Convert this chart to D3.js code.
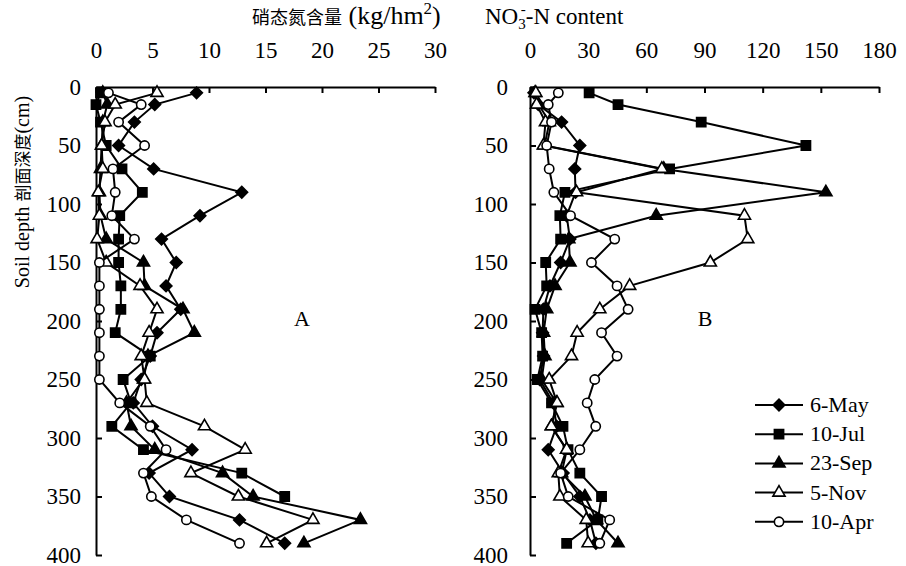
<!DOCTYPE html>
<html>
<head>
<meta charset="utf-8">
<script src="https://cdn.jsdelivr.net/npm/d3@7"></script>
<style>
body { margin: 0; background: #fff; }
</style>
</head>
<body>
<script>
var w = 906;
var h = 566;
var serif = "Liberation Serif";
var cjk = "Noto Sans CJK SC";

// soil depth of each sample (cm)
var depths = [5, 15, 30, 50, 70, 90, 110, 130, 150, 170, 190, 210, 230, 250, 270, 290, 310, 330, 350, 370, 390];
var seriesNames = ["6-May", "10-Jul", "23-Sep", "5-Nov", "10-Apr"];

// panel A, kg/hm2
var aMay = [8.9, 5.2, 3.4, 2.0, 5.1, 12.9, 9.2, 5.8, 7.1, 6.2, 7.5, 5.4, 4.8, 4.0, 3.3, 5.0, 8.5, 4.7, 6.5, 12.7, 16.7];
var aJul = [0.4, 0.0, 0.4, 0.9, 2.3, 4.1, 2.1, 2.0, 2.0, 2.2, 2.2, 1.7, 4.8, 2.4, 3.1, 1.4, 4.2, 12.9, 16.7, null, null];
var aSep = [0.6, 1.0, 0.6, 0.5, 0.4, 0.3, 0.4, 0.9, 4.2, 4.3, 7.7, 8.7, 4.6, 4.2, 2.7, 3.1, 5.2, 11.2, 13.9, 23.4, 18.4];
var aNov = [5.4, 1.7, 0.8, 0.5, 0.6, 0.2, 0.3, 0.1, 0.9, 3.9, 5.4, 4.7, 4.0, 4.3, 4.5, 9.6, 13.2, 8.4, 12.6, 19.2, 15.1];
var aApr = [1.1, 4.0, 2.0, 4.3, 1.5, 1.7, 1.4, 3.4, 0.3, 0.3, 0.3, 0.3, 0.3, 0.3, 2.1, 4.8, 6.2, 4.2, 4.9, 8.0, 12.7];

// panel B, NO3--N content
var bMay = [2.0, 4.3, 16.3, 25.7, 23.1, 23.5, 18.9, 20.6, 15.8, 10.3, 6.9, 6.5, 7.0, 5.0, 12.0, 13.7, 9.4, 17.1, 25.7, 30.9, 34.0];
var bJul = [30.5, 45.4, 88.3, 142.3, 72.0, 18.0, 15.4, 15.8, 8.1, 8.6, 2.6, 6.0, 6.5, 3.8, 11.1, 17.0, 19.6, 25.7, 36.9, 35.0, 18.9];
var bSep = [2.6, 4.5, 10.0, 7.5, 69.0, 152.6, 65.1, 20.0, 20.6, 12.9, 8.6, 7.0, 7.7, 6.0, 13.7, 11.1, 19.0, 16.3, 28.3, 34.3, 45.4];
var bNov = [3.0, 3.4, 8.0, 6.9, 68.0, 24.0, 110.6, 112.3, 93.0, 51.4, 36.0, 24.3, 21.4, 9.9, 14.0, 11.0, 18.9, 14.6, 15.4, 29.0, 30.0];
var bApr = [14.6, 9.4, 11.1, 8.6, 9.9, 12.3, 20.9, 43.7, 31.7, 44.9, 50.6, 36.9, 44.9, 33.4, 29.5, 33.9, 25.7, 15.8, 19.7, 41.1, 36.0];

var ticksA = [0, 5, 10, 15, 20, 25, 30];
var ticksB = [0, 30, 60, 90, 120, 150, 180];
var depthTicks = [0, 50, 100, 150, 200, 250, 300, 350, 400];

// marker styles per series
var markers = [
  {type: "diamond", fill: "#000"},
  {type: "square", fill: "#000"},
  {type: "triangle", fill: "#000"},
  {type: "triangle", fill: "#fff"},
  {type: "circle", fill: "#fff"}
];

var svg = d3.select("body").append("svg")
  .attr("width", w)
  .attr("height", h)
  .attr("font-family", serif);

var y = d3.scaleLinear().domain([0, 400]).range([87, 555]);

function symbolPath(m) {
  if (m.type == "diamond") return d3.symbol().type(d3.symbolSquare).size(68)();
  if (m.type == "square") return d3.symbol().type(d3.symbolSquare).size(85)();
  if (m.type == "triangle") return d3.symbol().type(d3.symbolTriangle).size(64)();
  return d3.symbol().type(d3.symbolCircle).size(68)();
}

function styleAxis(a) {
  a.attr("font-family", serif);
  a.select(".domain").attr("stroke-width", 2);
  a.selectAll(".tick line").attr("stroke-width", 2);
  a.selectAll("text").attr("font-size", 23).attr("font-family", serif);
}

function drawPanel(x, series, ticks, labelPad, letter, letterX) {
  var g = svg.append("g");

  g.append("g")
    .attr("transform", "translate(0," + y(0) + ")")
    .call(d3.axisTop(x).tickValues(ticks).tickSizeInner(-6).tickSizeOuter(0).tickPadding(29))
    .call(styleAxis);

  g.append("g")
    .attr("transform", "translate(" + x.range()[0] + ",0)")
    .call(d3.axisLeft(y).tickValues(depthTicks).tickSizeInner(-6).tickSizeOuter(0).tickPadding(labelPad))
    .call(styleAxis);

  var line = d3.line()
    .defined(function(d) { return d.v != null; })
    .x(function(d) { return x(d.v); })
    .y(function(d) { return y(d.d); });

  series.forEach(function(vals, i) {
    var pts = vals.map(function(v, j) { return {v: v, d: depths[j]}; });
    g.append("path")
      .attr("d", line(pts))
      .attr("fill", "none")
      .attr("stroke", "#000")
      .attr("stroke-width", 2);
    var m = markers[i];
    g.selectAll(".m" + i)
      .data(pts.filter(function(d) { return d.v != null; }))
      .enter().append("path")
      .attr("d", symbolPath(m))
      .attr("transform", function(d) {
        return "translate(" + x(d.v) + "," + y(d.d) + ")" + (m.type == "diamond" ? " rotate(45)" : "");
      })
      .attr("fill", m.fill)
      .attr("stroke", "#000")
      .attr("stroke-width", 1.6);
  });

  g.append("text")
    .attr("x", letterX)
    .attr("y", 326)
    .attr("font-size", 22)
    .attr("font-family", serif)
    .attr("text-anchor", "middle")
    .text(letter);
}

var xA = d3.scaleLinear().domain([0, 30]).range([96, 435]);
var xB = d3.scaleLinear().domain([0, 180]).range([530, 879]);

drawPanel(xA, [aMay, aJul, aSep, aNov, aApr], ticksA, 15, "A", 302);
drawPanel(xB, [bMay, bJul, bSep, bNov, bApr], ticksB, 22, "B", 705);

// panel titles
var tA = svg.append("text").attr("x", 252).attr("y", 24).attr("font-family", serif);
tA.append("tspan").attr("font-family", cjk).attr("font-size", 18).text("硝态氮含量");
tA.append("tspan").attr("font-size", 26).text(" (kg/hm");
tA.append("tspan").attr("font-size", 17).attr("dy", -10).text("2");
tA.append("tspan").attr("font-size", 26).attr("dy", 10).text(")");

var tB = svg.append("text").attr("x", 485).attr("y", 24).attr("font-size", 23).attr("font-family", serif);
tB.append("tspan").text("NO");
tB.append("tspan").attr("font-size", 15).attr("dy", 5).text("3");
tB.append("tspan").attr("font-size", 15).attr("dx", -5).attr("dy", -15).text("-");
tB.append("tspan").attr("dy", 10).text("-N content");

// y axis title
var yt = svg.append("text")
  .attr("transform", "translate(29,192) rotate(-90)")
  .attr("font-family", serif)
  .attr("text-anchor", "middle");
yt.append("tspan").attr("font-size", 20).text("Soil depth  ");
yt.append("tspan").attr("font-family", cjk).attr("font-size", 17).text("剖面深度");
yt.append("tspan").attr("font-size", 20).text("(cm)");

// legend
var legend = svg.append("g").attr("transform", "translate(755,405)");
seriesNames.forEach(function(name, i) {
  var row = legend.append("g").attr("transform", "translate(0," + (i * 29.2) + ")");
  row.append("line").attr("x1", 0).attr("x2", 48).attr("stroke", "#000").attr("stroke-width", 2);
  var m = markers[i];
  row.append("path")
    .attr("d", symbolPath(m))
    .attr("transform", "translate(24,0)" + (m.type == "diamond" ? " rotate(45)" : ""))
    .attr("fill", m.fill)
    .attr("stroke", "#000")
    .attr("stroke-width", 1.6);
  row.append("text")
    .attr("x", 55)
    .attr("y", 7)
    .attr("font-size", 22)
    .attr("font-family", serif)
    .text(name);
});
</script>
</body>
</html>
